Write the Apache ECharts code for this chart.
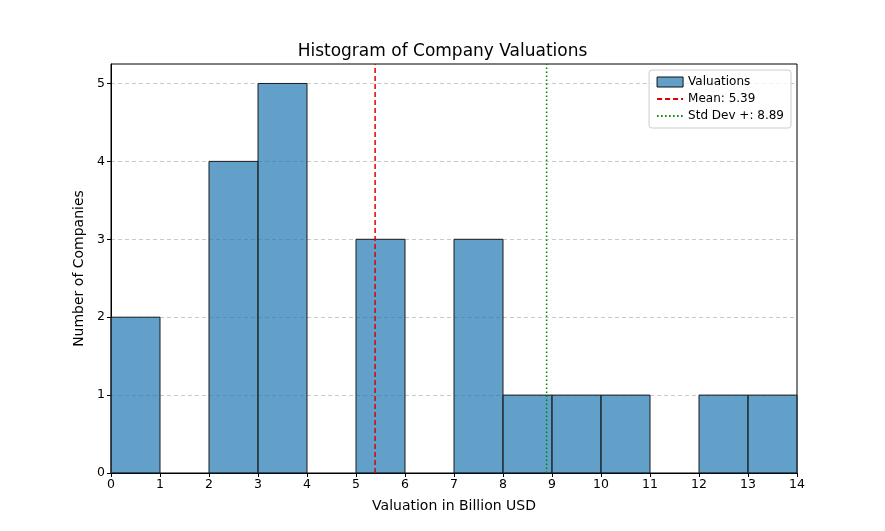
<!DOCTYPE html>
<html>
<head>
<meta charset="utf-8">
<script src="https://cdn.jsdelivr.net/npm/echarts@6/dist/echarts.min.js"></script>
<style>
html, body { margin: 0; padding: 0; background: #fff; }
#chart { width: 885px; height: 531px; }
</style>
</head>
<body>
<div id="chart"></div>
<script>
// bins of 1 billion USD, counts per bin
var binEdges = [0, 1, 2, 3, 4, 5, 6, 7, 8, 9, 10, 11, 12, 13, 14];
var binCounts = [2, 0, 4, 5, 0, 3, 0, 3, 1, 1, 1, 0, 1, 1];
var meanValue = 5.39;
var stdPlusValue = 8.89;
var yTicks = [0, 1, 2, 3, 4, 5];

var bars = [];
for (var i = 0; i < binCounts.length; i++) {
    if (binCounts[i] > 0) bars.push([binEdges[i], binEdges[i + 1], binCounts[i]]);
}

var font = 'DejaVu Sans';
var yMax = 5.25;
var chart = echarts.init(document.getElementById('chart'));
chart.setOption({
    animation: false,
    textStyle: { fontFamily: font },
    title: {
        text: 'Histogram of Company Valuations',
        left: 'center',
        top: 38,
        textStyle: { fontFamily: font, fontSize: 17, fontWeight: 'normal', color: '#000' }
    },
    grid: { left: 111, right: 88, top: 64, bottom: 58, show: true, borderColor: '#000', borderWidth: 1 },
    legend: {
        right: 94,
        top: 70,
        orient: 'vertical',
        itemWidth: 26,
        itemHeight: 10,
        itemGap: 5,
        padding: [6, 7],
        borderColor: '#ccc',
        borderWidth: 1,
        borderRadius: 3,
        backgroundColor: 'rgba(255,255,255,0.8)',
        textStyle: { fontFamily: font, fontSize: 12, color: '#000' },
        data: [
            { name: 'Valuations', icon: 'rect', itemStyle: { borderWidth: 1 } },
            { name: 'Mean: 5.39', itemStyle: { opacity: 0 } },
            { name: 'Std Dev +: 8.89', itemStyle: { opacity: 0 } }
        ]
    },
    xAxis: {
        type: 'value',
        min: 0,
        max: 14,
        interval: 1,
        name: 'Valuation in Billion USD',
        nameLocation: 'middle',
        nameGap: 26,
        nameTextStyle: { fontFamily: font, fontSize: 14, color: '#000' },
        axisLine: { show: true, lineStyle: { color: '#000' } },
        axisTick: { show: true, length: 4, lineStyle: { color: '#000' } },
        axisLabel: { fontFamily: font, fontSize: 12.5, color: '#000', margin: 5 },
        splitLine: { show: false }
    },
    yAxis: {
        type: 'value',
        min: 0,
        max: yMax,
        interval: 1,
        name: 'Number of Companies',
        nameLocation: 'middle',
        nameGap: 24,
        nameTextStyle: { fontFamily: font, fontSize: 14, color: '#000' },
        axisLine: { show: true, lineStyle: { color: '#000' } },
        axisTick: { show: true, length: 4, lineStyle: { color: '#000' }, customValues: yTicks },
        axisLabel: { fontFamily: font, fontSize: 12.5, color: '#000', margin: 6, customValues: yTicks },
        splitLine: { show: true, showMinLine: false,
            lineStyle: { color: '#bbb', type: [4, 3], width: 0.8 } }
    },
    series: [
        {
            name: 'Valuations',
            type: 'custom',
            itemStyle: { color: 'rgba(31,119,180,0.7)', borderColor: '#111', borderWidth: 1 },
            encode: { x: [0, 1], y: 2 },
            renderItem: function (params, api) {
                var p0 = api.coord([api.value(0), api.value(2)]);
                var p1 = api.coord([api.value(1), 0]);
                return {
                    type: 'rect',
                    shape: { x: p0[0], y: p0[1], width: p1[0] - p0[0], height: p1[1] - p0[1] },
                    style: { fill: 'rgba(31,119,180,0.7)', stroke: '#1a1a1a', lineWidth: 1 }
                };
            },
            data: bars
        },
        {
            name: 'Mean: 5.39',
            type: 'line',
            symbol: 'none',
            color: '#e00000',
            lineStyle: { color: '#e00000', width: 1.5, type: [5, 3] },
            data: [[meanValue, 0], [meanValue, yMax]]
        },
        {
            name: 'Std Dev +: 8.89',
            type: 'line',
            symbol: 'none',
            color: '#008000',
            lineStyle: { color: '#008000', width: 1.5, type: [1.5, 2.5] },
            data: [[stdPlusValue, 0], [stdPlusValue, yMax]]
        }
    ]
});
</script>
</body>
</html>
